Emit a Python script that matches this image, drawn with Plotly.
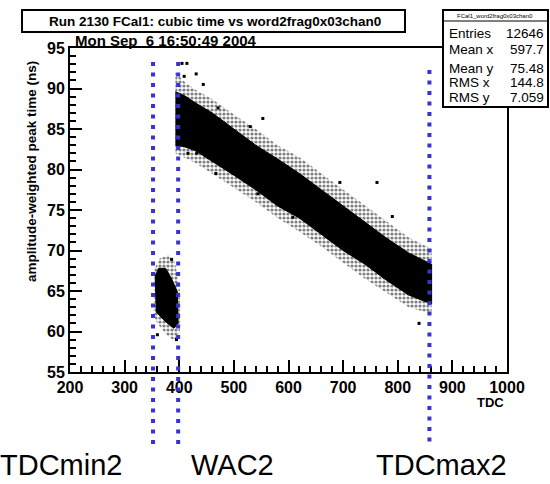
import plotly.graph_objects as go

# main band (TDC vs peak time), edges
band_tdc = [393, 410, 430, 460, 500, 540, 580, 620, 660, 700, 740, 780, 820, 862]
core_hi = [89.6, 89.1, 88.2, 87.0, 85.0, 83.0, 81.3, 79.5, 77.5, 75.5, 73.5, 71.5, 69.7, 68.3]
core_lo = [83.0, 82.8, 82.3, 81.0, 79.3, 77.5, 75.5, 74.0, 72.0, 70.0, 68.3, 66.3, 64.5, 63.4]
halo_hi = [92.0, 90.8, 89.8, 88.7, 86.8, 85.0, 83.0, 81.5, 79.5, 77.5, 75.5, 73.5, 71.6, 70.2]
halo_lo = [82.0, 81.5, 80.8, 79.5, 77.8, 76.0, 74.0, 72.3, 70.5, 68.5, 66.5, 64.8, 63.0, 62.2]

# low cluster near TDCmin2 / WAC2
clu_core_x = [356, 362, 375, 386, 397, 398, 390, 375, 358]
clu_core_y = [66.8, 67.8, 67.8, 66.5, 64.8, 61.0, 60.4, 61.2, 62.4]
clu_halo_x = [354, 364, 380, 392, 401, 401, 392, 378, 360, 353]
clu_halo_y = [67.6, 69.0, 69.4, 68.6, 65.2, 60.0, 58.8, 59.5, 61.0, 62.0]

# isolated entries
out_x = [405, 414, 409, 431, 444, 471, 530, 553, 694, 762, 790, 839, 416, 432, 467, 544, 608, 671, 360, 395, 386]
out_y = [93.1, 93.1, 91.5, 91.8, 90.5, 87.6, 85.3, 86.3, 78.4, 78.4, 74.2, 61.0, 82.0, 82.0, 79.5, 77.0, 74.1, 72.1, 59.6, 59.0, 68.9]

cut_tdc = [352, 398, 858]
cut_top = [62, 62, 70]
cut_names = ['TDCmin2', 'WAC2', 'TDCmax2']
cut_label_px = [61, 232, 441]

stats_names = ['Entries', 'Mean x', 'Mean y', 'RMS x', 'RMS y']
stats_vals = ['12646', '597.7', '75.48', '144.8', '7.059']
stats_rows = [33, 49, 68, 82, 97]


def px(x):
    return (x - 70) / 437.0


def py(y):
    return (372 - y) / 324.0


fig = go.Figure()

halo_pattern = dict(shape='.', fgcolor='black', bgcolor='white', size=4, solidity=0.5)
fig.add_trace(go.Scatter(
    x=band_tdc + band_tdc[::-1], y=halo_hi + halo_lo[::-1],
    fill='toself', mode='lines', line=dict(width=0),
    fillcolor='rgba(0,0,0,0)', fillpattern=halo_pattern,
    hoverinfo='skip', showlegend=False))
fig.add_trace(go.Scatter(
    x=clu_halo_x + [clu_halo_x[0]], y=clu_halo_y + [clu_halo_y[0]],
    fill='toself', mode='lines', line=dict(width=0),
    fillcolor='rgba(0,0,0,0)', fillpattern=halo_pattern,
    hoverinfo='skip', showlegend=False))
fig.add_trace(go.Scatter(
    x=band_tdc + band_tdc[::-1], y=core_hi + core_lo[::-1],
    fill='toself', mode='lines', line=dict(width=1, color='black'),
    fillcolor='black', showlegend=False))
fig.add_trace(go.Scatter(
    x=clu_core_x + [clu_core_x[0]], y=clu_core_y + [clu_core_y[0]],
    fill='toself', mode='lines', line=dict(width=1, color='black'),
    fillcolor='black', showlegend=False))
fig.add_trace(go.Scatter(
    x=out_x, y=out_y, mode='markers',
    marker=dict(symbol='square', size=3, color='black'), showlegend=False))

shapes = []
for t, top in zip(cut_tdc, cut_top):
    shapes.append(dict(type='line', xref='x', yref='paper', x0=t, x1=t,
                       y0=py(top), y1=py(448),
                       line=dict(color='#3434d2', width=4, dash='4px,6.5px'), layer='above'))

# title box
shapes.append(dict(type='rect', xref='paper', yref='paper', x0=px(22), x1=px(405),
                   y0=py(32), y1=py(10), line=dict(color='black', width=2),
                   fillcolor='white', layer='above'))
# stats box
shapes.append(dict(type='rect', xref='paper', yref='paper', x0=px(443), x1=px(548),
                   y0=py(107), y1=py(10), line=dict(color='black', width=2),
                   fillcolor='white', layer='above'))
shapes.append(dict(type='line', xref='paper', yref='paper', x0=px(443), x1=px(548),
                   y0=py(21), y1=py(21), line=dict(color='black', width=1), layer='above'))

ann = []
ann.append(dict(text='Run 2130 FCal1: cubic time vs word2frag0x03chan0', xref='paper', yref='paper',
                x=px(215), y=py(21), showarrow=False, xanchor='center', yanchor='middle',
                font=dict(family='Arial, Liberation Sans', size=13.5, color='black', weight='bold')))
ann.append(dict(text='Mon Sep\u00a0\u00a06 16:50:49 2004', xref='paper', yref='paper',
                x=px(73), y=py(41), showarrow=False, xanchor='left', yanchor='middle',
                font=dict(family='Arial, Liberation Sans', size=15, color='black', weight='bold')))
ann.append(dict(text='FCal1_word2frag0x03chan0', xref='paper', yref='paper',
                x=px(495), y=py(15.5), showarrow=False, xanchor='center', yanchor='middle',
                font=dict(family='Arial, Liberation Sans', size=6, color='black')))
for name, val, row in zip(stats_names, stats_vals, stats_rows):
    ann.append(dict(text=name, xref='paper', yref='paper', x=px(447), y=py(row),
                    showarrow=False, xanchor='left', yanchor='middle',
                    font=dict(family='Arial, Liberation Sans', size=13.5, color='black')))
    ann.append(dict(text=val, xref='paper', yref='paper', x=px(546), y=py(row),
                    showarrow=False, xanchor='right', yanchor='middle',
                    font=dict(family='Arial, Liberation Sans', size=13.5, color='black')))
ann.append(dict(text='amplitude-weighted peak time (ns)', xref='paper', yref='paper',
                x=px(31), y=py(172), showarrow=False, textangle=-90,
                xanchor='center', yanchor='middle',
                font=dict(family='Arial, Liberation Sans', size=13.5, color='black', weight='bold')))
ann.append(dict(text='TDC', xref='paper', yref='paper', x=px(490), y=py(402),
                showarrow=False, xanchor='center', yanchor='middle',
                font=dict(family='Arial, Liberation Sans', size=13, color='black', weight='bold')))
for name, lx in zip(cut_names, cut_label_px):
    ann.append(dict(text=name, xref='paper', yref='paper', x=px(lx), y=py(483),
                    showarrow=False, xanchor='center', yanchor='bottom',
                    font=dict(family='Arial, Liberation Sans', size=29, color='black')))

axis_common = dict(
    showline=True, linecolor='black', linewidth=2, mirror=True,
    showgrid=False, zeroline=False, ticks='inside', ticklen=12, tickwidth=1.5,
    tickcolor='black',
    tickfont=dict(family='Arial, Liberation Sans', size=16, color='black', weight='bold'),
)

fig.update_layout(
    width=550, height=484,
    margin=dict(l=70, r=43, t=48, b=112),
    paper_bgcolor='white', plot_bgcolor='white',
    xaxis=dict(range=[200, 1000], tick0=200, dtick=100,
               minor=dict(dtick=20, ticklen=6, ticks='inside', tickwidth=1.5, tickcolor='black'),
               **axis_common),
    yaxis=dict(range=[55, 95], tick0=55, dtick=5,
               minor=dict(dtick=1, ticklen=6, ticks='inside', tickwidth=1.5, tickcolor='black'),
               **axis_common),
    shapes=shapes, annotations=ann,
)

# drop the browser's default 8px body margin so the figure sits at the window origin
fig.write_html("out.html", config={'displayModeBar': False},
               post_script="document.body.style.margin='0';")
